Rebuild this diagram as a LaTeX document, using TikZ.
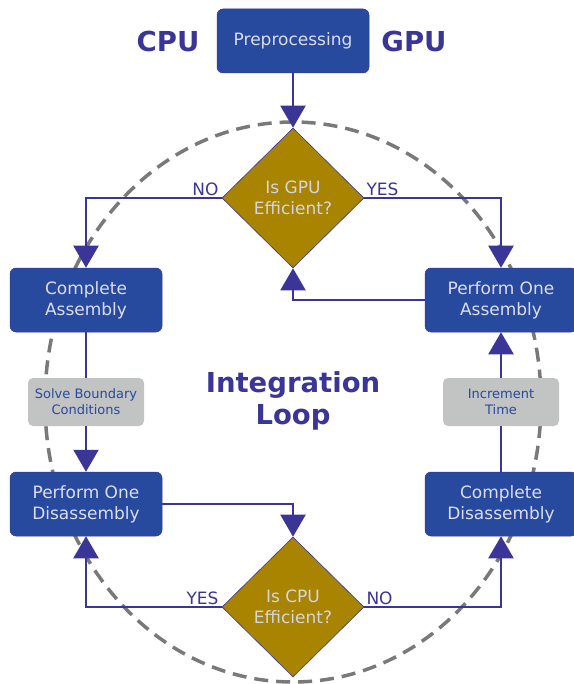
\documentclass[tikz,border=0pt]{standalone}
\usepackage{fontspec}
\setmainfont{DejaVu Sans}
\usetikzlibrary{arrows.meta,shapes.geometric,positioning}
\definecolor{boxblue}{HTML}{274A9F}
\definecolor{flowline}{HTML}{3A3596}
\definecolor{qgold}{HTML}{A88400}
\definecolor{boxtext}{HTML}{DDDDF0}
\definecolor{stepgray}{HTML}{C2C3C3}
\tikzset{
  task/.style={
    draw=flowline,
    line width=0.5pt,
    fill=boxblue,
    rounded corners=6pt,
    minimum width=152pt,
    minimum height=64pt,
    inner sep=0pt,
    text=boxtext,
    font=\fontsize{17}{21}\selectfont,
    align=center
  },
  query/.style={
    draw=flowline,
    line width=0.6pt,
    fill=qgold,
    shape=diamond,
    aspect=1,
    minimum width=142pt,
    minimum height=140pt,
    inner sep=0pt,
    text=boxtext!90!gray,
    font=\fontsize{17}{21}\selectfont,
    align=center
  },
  substep/.style={
    fill=stepgray,
    rounded corners=5pt,
    minimum width=116pt,
    minimum height=48pt,
    inner sep=0pt,
    text=boxblue,
    font=\fontsize{13}{16}\selectfont,
    align=center
  },
  side/.style={font=\bfseries\fontsize{27.5}{32}\selectfont, text=flowline},
  lbl/.style={font=\fontsize{17}{20}\selectfont, text=flowline, inner sep=2pt},
  flow/.style={draw=flowline, line width=2.2pt, -{Triangle[width=25pt,length=22pt]}},
  link/.style={draw=flowline, line width=2.2pt},
}

\begin{document}
\begin{tikzpicture}[x=1pt,y=-1pt]
  \useasboundingbox (0,0) rectangle (573,684);
  \draw[gray!95!black, line width=3.5pt, dash pattern=on 14pt off 8pt] (293,402) ellipse [x radius=248, y radius=280];

  \node[side] (cpu) at (168,41) {CPU};
  \node[side] (gpu) at (414,41) {GPU};
  \node[side, align=center] (loop) at (293,401) {Integration\\Loop};

  \node[task] (pre) at (293,41) {Preprocessing};
  \node[query] (gpuq) at (293,198) {Is GPU\\Efficient?};
  \node[task] (casm) at (86,300) {Complete\\Assembly};
  \node[task] (pasm) at (501,300) {Perform One\\Assembly};
  \node[substep] (sbc) at (86,402) {Solve Boundary\\Conditions};
  \node[substep] (inct) at (501,402) {Increment\\Time};
  \node[task] (pdis) at (86,504) {Perform One\\Disassembly};
  \node[task] (cdis) at (501,504) {Complete\\Disassembly};
  \node[query] (cpuq) at (293,607) {Is CPU\\Efficient?};

  \draw[flow] (pre) -- (gpuq.north);
  \draw[flow] (gpuq.west) -| (casm.north);
  \draw[flow] (gpuq.east) -| (pasm.north);
  \draw[flow] (pasm.west) -| (gpuq.south);
  \draw[link] (casm) -- (sbc);
  \draw[flow] (sbc) -- (pdis);
  \draw[flow] (pdis.east) -| (cpuq.north);
  \draw[flow] (cpuq.west) -| (pdis.south);
  \draw[flow] (cpuq.east) -| (cdis.south);
  \draw[link] (cdis) -- (inct);
  \draw[flow] (inct) -- (pasm);

  \node[lbl, anchor=south east] (gno) at ([xshift=-1pt]gpuq.west) {NO};
  \node[lbl, anchor=south west] (gyes) at (gpuq.east) {YES};
  \node[lbl, anchor=south east] (cyes) at ([xshift=-1pt]cpuq.west) {YES};
  \node[lbl, anchor=south west] (cno) at (cpuq.east) {NO};
\end{tikzpicture}
\end{document}
